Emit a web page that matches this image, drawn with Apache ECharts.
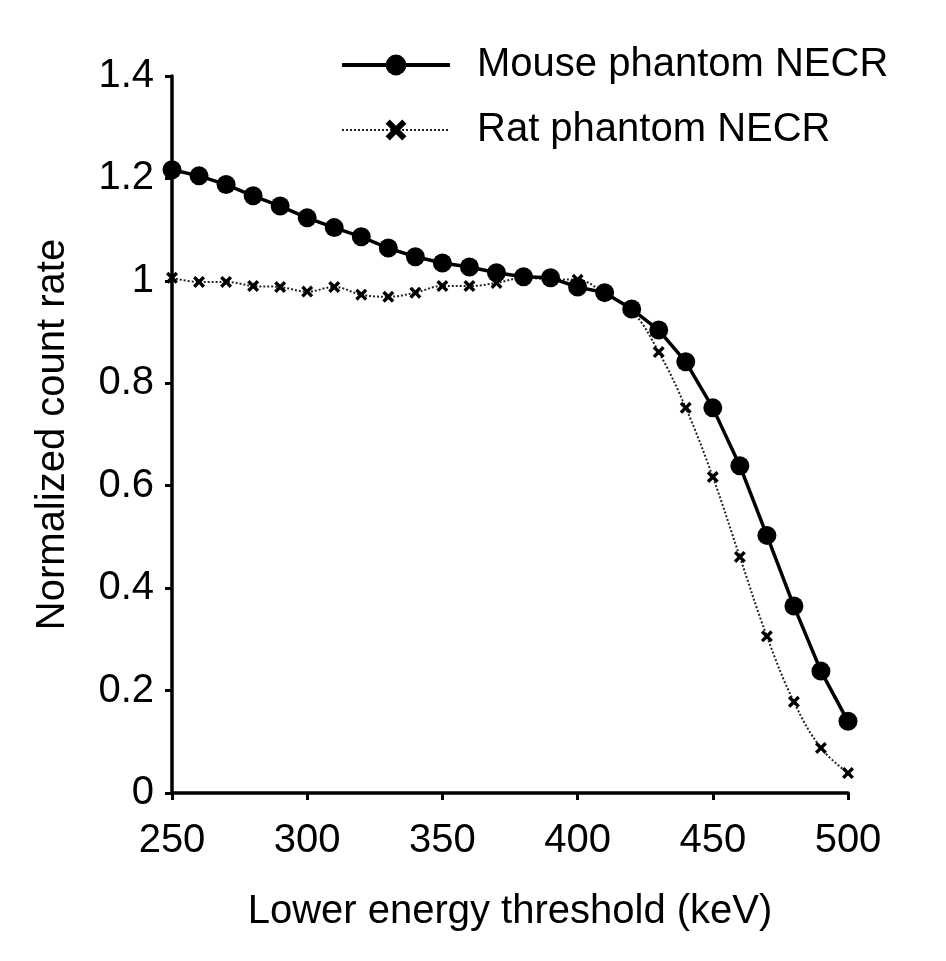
<!DOCTYPE html>
<html>
<head>
<meta charset="utf-8">
<script src="https://cdn.jsdelivr.net/npm/echarts@6/dist/echarts.min.js"></script>
<style>
html,body{margin:0;padding:0;background:#fff;}
#chart{width:946px;height:961px;}
</style>
</head>
<body>
<div id="chart"></div>
<script>
const thresholds = [250,260,270,280,290,300,310,320,330,340,350,360,370,380,390,400,410,420,430,440,450,460,470,480,490,500];
const mouseNECR = [1.217,1.205,1.188,1.166,1.146,1.123,1.104,1.086,1.064,1.047,1.035,1.027,1.016,1.008,1.006,0.988,0.977,0.945,0.904,0.842,0.752,0.639,0.503,0.365,0.238,0.140];
const ratNECR = [1.006,0.998,0.998,0.990,0.988,0.979,0.988,0.973,0.969,0.977,0.990,0.990,0.996,1.006,1.003,1.002,0.976,0.942,0.861,0.752,0.617,0.461,0.306,0.178,0.088,0.039];
const xTicks = [250,300,350,400,450,500];
const yTicks = [0,0.2,0.4,0.6,0.8,1,1.2,1.4];

const FONT = 'Liberation Sans, Arial, sans-serif';
const xMark = 'path://M0,2 L2,0 L5,3 L8,0 L10,2 L7,5 L10,8 L8,10 L5,7 L2,10 L0,8 L3,5 Z';

const chart = echarts.init(document.getElementById('chart'), null, {renderer:'canvas'});
chart.setOption({
  backgroundColor:'#ffffff',
  animation:false,
  grid:{left:172, top:76, width:676, height:717, containLabel:false},
  legend:{
    orient:'vertical', left:335, top:40,
    itemWidth:108, itemHeight:26, itemGap:25,
    textStyle:{fontFamily:FONT, fontSize:40, color:'#000', lineHeight:40, padding:[0,0,0,22]},
    data:[
      {name:'Mouse phantom NECR', lineStyle:{width:4, color:'#000'}},
      {name:'Rat phantom NECR', lineStyle:{width:2, color:'#222', type:[2,2]}}
    ]
  },
  xAxis:{
    type:'value', min:xTicks[0], max:xTicks[xTicks.length-1], interval:50,
    name:'Lower energy threshold (keV)', nameLocation:'middle', nameGap:99,
    nameTextStyle:{fontFamily:FONT, fontSize:40, color:'#000'},
    axisLine:{show:true, lineStyle:{color:'#000', width:3.5}},
    axisTick:{show:true, length:7, lineStyle:{color:'#000', width:3}},
    axisLabel:{fontFamily:FONT, fontSize:40, color:'#000', margin:28},
    splitLine:{show:false}
  },
  yAxis:{
    type:'value', min:yTicks[0], max:yTicks[yTicks.length-1], interval:0.2,
    name:'Normalized count rate', nameLocation:'middle', nameGap:99, nameRotate:90,
    nameTextStyle:{fontFamily:FONT, fontSize:40, color:'#000'},
    axisLine:{show:true, lineStyle:{color:'#000', width:3.5}},
    axisTick:{show:true, length:7, lineStyle:{color:'#000', width:3}},
    axisLabel:{fontFamily:FONT, fontSize:40, color:'#000', margin:18},
    splitLine:{show:false}
  },
  series:[
    {
      name:'Rat phantom NECR', type:'line', smooth:0.4,
      data:thresholds.map((x,i)=>[x, ratNECR[i]]),
      symbol:xMark, symbolSize:12, showAllSymbol:true,
      lineStyle:{color:'#222', width:2, type:[2,2]},
      itemStyle:{color:'#000'},
      z:2
    },
    {
      name:'Mouse phantom NECR', type:'line', smooth:false,
      data:thresholds.map((x,i)=>[x, mouseNECR[i]]),
      symbol:'circle', symbolSize:19, showAllSymbol:true,
      lineStyle:{color:'#000', width:3.5},
      itemStyle:{color:'#000'},
      z:3
    }
  ]
});
</script>
</body>
</html>
